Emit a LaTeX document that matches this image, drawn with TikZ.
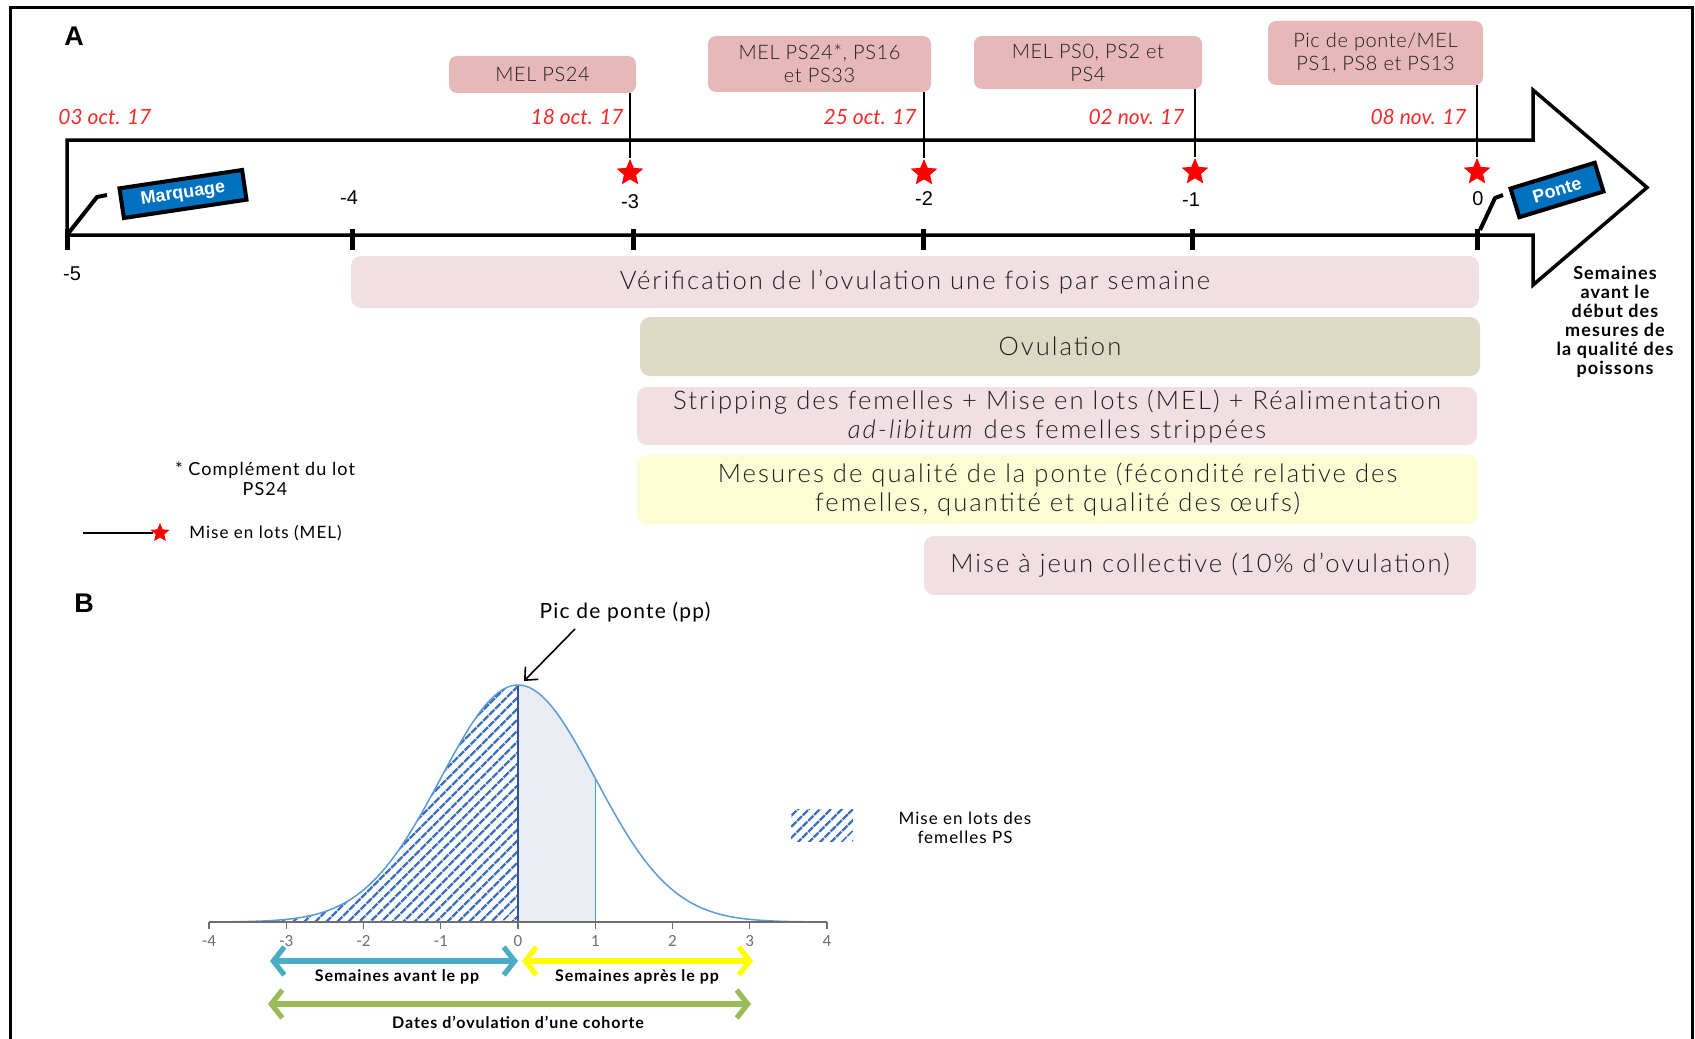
\documentclass[tikz,border=0pt]{standalone}
\usepackage{fontspec}
\setmainfont{Lato}[LetterSpace=6]
\newfontfamily\datef{Lato}
\newfontfamily\thinf{Lato Light}[LetterSpace=8, ItalicFont={Lato Light Italic}]
\newfontfamily\thinmel{Lato Light}[LetterSpace=3]
\newfontfamily\arialf{Liberation Sans}
\newfontfamily\calibrif{Carlito}
\usetikzlibrary{shapes.geometric, arrows.meta, patterns.meta}

\definecolor{melpink}{HTML}{E6B9B8}
\definecolor{lightpink}{HTML}{F1DFE3}
\definecolor{ovulcol}{HTML}{DDD9C4}
\definecolor{yellowbox}{HTML}{FCFCD5}
\definecolor{labelblue}{HTML}{0070C0}
\definecolor{datered}{HTML}{F22A2A}
\definecolor{curveblue}{HTML}{5B9BD5}
\definecolor{hatchblue}{HTML}{3F70BC}
\definecolor{darkblue}{HTML}{2F5597}
\definecolor{shadegray}{HTML}{E9ECF1}
\definecolor{axisgray}{HTML}{6F6F6F}
\definecolor{tealarrow}{HTML}{4BACC6}
\definecolor{yellowarrow}{HTML}{FFFF00}
\definecolor{greenarrow}{HTML}{9BBB59}
\definecolor{textgray}{HTML}{1F1F1F}

\tikzset{
  melbox/.style={fill=melpink, rounded corners=4pt, align=center,
    font=\thinmel\fontsize{10}{11.5}\selectfont, text=textgray, inner sep=0pt},
  stagebox/.style={rounded corners=5pt, align=center,
    font=\thinf\fontsize{12.8}{14.5}\selectfont, text=textgray, inner sep=0pt},
  redstar/.style={star, star points=5, star point ratio=2.2, fill=red,
    draw=none, minimum size=14pt, inner sep=0pt},
  datelabel/.style={font=\datef\fontsize{10.5}{12}\selectfont\itshape, text=datered, inner sep=0pt},
  weeknum/.style={font=\arialf\fontsize{10}{11}\selectfont, inner sep=0pt},
  tagbox/.style={fill=labelblue, draw=black, line width=2pt, text=white,
    font=\arialf\bfseries\fontsize{9}{10}\selectfont, inner sep=0pt},
  callout/.style={line width=2pt},
  dropline/.style={line width=1pt},
  smalltext/.style={font=\fontsize{8.5}{9.5}\selectfont, align=center, inner sep=0pt},
  paneltag/.style={font=\arialf\bfseries\fontsize{13.5}{14}\selectfont, inner sep=0pt},
  hatch/.style={pattern={Lines[angle=45,distance=4pt,line width=1.3pt]}, pattern color=hatchblue},
  dblarrow/.style={line width=2.6pt,
    {Straight Barb[length=5.5pt,width=14pt]}-{Straight Barb[length=5.5pt,width=14pt]}},
  arrowlabel/.style={font=\bfseries\fontsize{8}{9}\selectfont, inner sep=0pt},
}

\begin{document}
\begin{tikzpicture}[x=0.5pt,y=-0.5pt]
\useasboundingbox (0,0) rectangle (1695,1038);

% outer frame
\draw[line width=1.5pt] (10,1045) -- (10,8) -- (1692,8) -- (1692,1045);

% ---------------- Panel A ----------------
\node[paneltag] (labA) at (74,36) {A};

% timeline arrow
\draw[line width=1.75pt, line join=miter]
  (67,140) -- (1533,140) -- (1533,90) -- (1647,187.5) -- (1533,285)
  -- (1533,235) -- (67,235) -- cycle;

% week ticks
\foreach \tx in {67,352,633,923,1192,1477}
  \draw[line width=2.5pt] (\tx,229) -- (\tx,250);

% week numbers
\node[weeknum] (w5) at (72,274) {-5};
\node[weeknum] (w4) at (349,198) {-4};
\node[weeknum] (w3) at (630,202) {-3};
\node[weeknum] (w2) at (924,199) {-2};
\node[weeknum] (w1) at (1191,200) {-1};
\node[weeknum] (w0) at (1478,199) {0};

% dates
\node[datelabel, anchor=west] (d5) at (58,117) {03 oct. 17};
\node[datelabel, anchor=east] (d3) at (624,117) {18 oct. 17};
\node[datelabel, anchor=east] (d2) at (917,117) {25 oct. 17};
\node[datelabel, anchor=east] (d1) at (1185,117) {02 nov. 17};
\node[datelabel, anchor=east] (d0) at (1467,117) {08 nov. 17};

% batching boxes
\node[melbox, minimum width=93.5pt, minimum height=18.5pt] (mel3) at (542.5,74.5) {MEL PS24};
\node[melbox, minimum width=111.5pt, minimum height=28pt] (mel2) at (819.5,64) {MEL PS24*, PS16\\et PS33};
\node[melbox, minimum width=114pt, minimum height=26.5pt] (mel1) at (1088,62.5) {MEL PS0, PS2 et\\PS4};
\node[melbox, minimum width=107.5pt, minimum height=32pt] (mel0) at (1375.5,53) {Pic de ponte/MEL\\PS1, PS8 et PS13};

% batching stars
\node[redstar] (s3) at (630,173) {};
\node[redstar] (s2) at (924,173) {};
\node[redstar] (s1) at (1195,172) {};
\node[redstar] (s0) at (1477,172) {};
\draw[dropline] (s3 |- mel3.south) -- (s3.north);
\draw[dropline] (s2 |- mel2.south) -- (s2.north);
\draw[dropline] (s1 |- mel1.south) -- (s1.north);
\draw[dropline] (s0 |- mel0.south) -- (s0.north);

% tags
\node[tagbox, rotate=8.5, minimum width=62pt, minimum height=15pt] (marq) at (183,194) {Marquage};
\coordinate (marqfoot) at (67,235);
\coordinate (marqend) at (107,195);
\draw[callout] (marqfoot) -- (97,197) -- (marqend);

\node[tagbox, rotate=17, minimum width=44pt, minimum height=15pt] (ponte) at (1557,190) {Ponte};
\coordinate (pontefoot) at (1480,230);
\coordinate (ponteend) at (1503,195);
\draw[callout] (pontefoot) -- (1495,198) -- (ponteend);

% axis caption
\node[font=\bfseries\fontsize{9}{9.5}\selectfont, align=center, inner sep=0pt] (semnote)
  at (1615,321.5) {Semaines\\avant le\\début des\\mesures de\\la qualité des\\poissons};

% stage boxes
\node[stagebox, fill=lightpink, minimum width=564pt, minimum height=26pt] (verif)
  at (915,282) {Vérification de l’ovulation une fois par semaine};
\node[stagebox, fill=ovulcol, minimum width=420pt, minimum height=29.5pt] (ovul)
  at (1060,346.5) {Ovulation};
\node[stagebox, fill=lightpink, minimum width=420pt, minimum height=29pt] (strip)
  at (1057,416) {Stripping des femelles + Mise en lots (MEL) + Réalimentation\\\textit{ad-libitum} des femelles strippées};
\node[stagebox, fill=yellowbox, minimum width=420.5pt, minimum height=34.5pt] (mesure)
  at (1057.5,489.5) {Mesures de qualité de la ponte (fécondité relative des\\femelles, quantité et qualité des œufs)};
\node[stagebox, fill=lightpink, minimum width=276pt, minimum height=29.5pt] (jeun)
  at (1200,565.5) {Mise à jeun collective (10\% d’ovulation)};

% legend A
\node[smalltext, font=\fontsize{9}{10}\selectfont] (note) at (265,479) {* Complément du lot\\PS24};
\coordinate (legstart) at (83,533);
\node[redstar, minimum size=10pt] (legstar) at (160,533) {};
\draw[dropline] (legstart) -- (legstar.west);
\node[smalltext, anchor=west] (legtext) at (189,533) {Mise en lots (MEL)};

% ---------------- Panel B ----------------
\node[paneltag] (labB) at (84,603) {B};

% area before the peak (batched females)
\fill[hatch] plot[domain=-4:0,samples=60] ({518+77.25*\x},{922-237*exp(-0.5*\x*\x)}) -- (518,922) -- cycle;
% first week after the peak
\fill[shadegray] (518,922) -- plot[domain=0:1,samples=30] ({518+77.25*\x},{922-237*exp(-0.5*\x*\x)}) -- (595.25,922) -- cycle;
\draw[darkblue, line width=0.9pt] (518,685) -- (518,922);
\draw[curveblue, line width=0.5pt] (595.25,{922-237*exp(-0.5)}) -- (595.25,922);
% bell curve
\draw[curveblue, line width=0.75pt] plot[domain=-4:4,samples=140] ({518+77.25*\x},{922-237*exp(-0.5*\x*\x)});
% x axis
\draw[axisgray, line width=0.75pt] (209,922) -- (827,922);
\foreach \i in {-4,...,4} {
  \draw[axisgray, line width=0.6pt] ({518+77.25*\i},922) -- ({518+77.25*\i},929);
  \node[font=\calibrif\fontsize{8.5}{9}\selectfont, text=axisgray, inner sep=0pt] (axlab\i) at ({518+77.25*\i},941) {\i};
}

% peak annotation
\node[font=\fontsize{10.5}{11}\selectfont, inner sep=0pt] (pictext) at (625,612) {Pic de ponte (pp)};
\coordinate (picstart) at (575,629);
\coordinate (peak) at (524,681);
\draw[line width=0.8pt, -{Straight Barb[length=5pt,width=9pt]}] (picstart) -- (peak);

% week ranges
\coordinate (ta) at (270,961);
\coordinate (tb) at (518,961);
\coordinate (ya) at (522,961);
\coordinate (yb) at (753,961);
\coordinate (ga) at (268,1004);
\coordinate (gb) at (751,1004);
\draw[dblarrow, tealarrow] (ta) -- (tb);
\draw[dblarrow, yellowarrow] (ya) -- (yb);
\draw[dblarrow, greenarrow] (ga) -- (gb);
\node[arrowlabel] (avant) at (397,977) {Semaines avant le pp};
\node[arrowlabel] (apres) at (637,977) {Semaines après le pp};
\node[arrowlabel] (cohorte) at (518,1022) {Dates d’ovulation d’une cohorte};

% legend B
\node[hatch, minimum width=31pt, minimum height=16pt, inner sep=0pt] (leghatch) at (822,825) {};
\node[smalltext] (legBtext) at (965,827.5) {Mise en lots des\\femelles PS};
\end{tikzpicture}
\end{document}
